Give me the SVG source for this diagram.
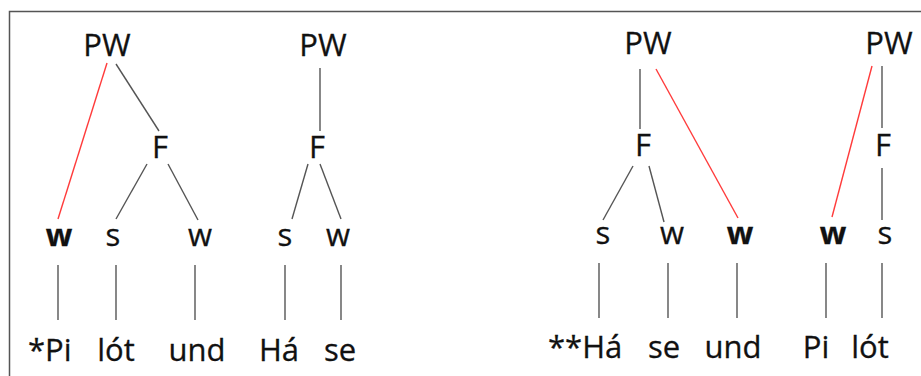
<svg xmlns="http://www.w3.org/2000/svg" width="921" height="376" viewBox="0 0 921 376">
  <style>
    text { font-family: "Open Sans", "Noto Sans", sans-serif; font-size: 31px; fill: #111; text-anchor: middle; stroke: #111; stroke-width: 0.3; }
    text.b { font-weight: bold; }
    text.s { text-anchor: start; }
    .edge { stroke: #555; stroke-width: 1.4; fill: none; }
    .red { stroke: #ff3b3b; stroke-width: 1.4; fill: none; }
    .frame { stroke: #555; stroke-width: 1.5; fill: none; }
  </style>
  <rect width="921" height="376" fill="#fff"/>
  <path class="frame" d="M9.5,380 V11.5 H925"/>

  <!-- connectors -->
  <g id="connectors">
    <!-- tree 1: *Pi lót und -->
    <line class="red" x1="107" y1="63" x2="58" y2="219"/>
    <line class="edge" x1="116" y1="64" x2="159" y2="131"/>
    <line class="edge" x1="147" y1="164" x2="116" y2="219"/>
    <line class="edge" x1="168" y1="164" x2="198" y2="220"/>
    <line class="edge" x1="58" y1="265" x2="58" y2="320"/>
    <line class="edge" x1="116" y1="265" x2="116" y2="320"/>
    <line class="edge" x1="195" y1="265" x2="195" y2="320"/>
    <!-- tree 2: Há se -->
    <line class="edge" x1="320" y1="68" x2="320" y2="131"/>
    <line class="edge" x1="308" y1="164" x2="292" y2="219"/>
    <line class="edge" x1="320" y1="164" x2="341" y2="219"/>
    <line class="edge" x1="285" y1="265" x2="285" y2="320"/>
    <line class="edge" x1="341" y1="265" x2="341" y2="320"/>
    <!-- tree 3: **Há se und -->
    <line class="edge" x1="640" y1="69" x2="640" y2="129"/>
    <line class="red" x1="656" y1="69" x2="738" y2="218"/>
    <line class="edge" x1="633" y1="166" x2="603" y2="220"/>
    <line class="edge" x1="649" y1="166" x2="664" y2="222"/>
    <line class="edge" x1="599" y1="263" x2="599" y2="318"/>
    <line class="edge" x1="668" y1="263" x2="668" y2="318"/>
    <line class="edge" x1="737" y1="263" x2="737" y2="318"/>
    <!-- tree 4: Pi lót -->
    <line class="red" x1="872" y1="66" x2="832" y2="217"/>
    <line class="edge" x1="882" y1="66" x2="882" y2="128"/>
    <line class="edge" x1="882" y1="168" x2="882" y2="220"/>
    <line class="edge" x1="826" y1="263" x2="826" y2="318"/>
    <line class="edge" x1="882" y1="263" x2="882" y2="318"/>
  </g>

  <!-- tree 1 -->
  <g id="t1-pw"><text x="107" y="56">PW</text></g>
  <g id="t1-f"><text x="160" y="158">F</text></g>
  <g id="t1-w1"><text class="b" x="59" y="246">w</text></g>
  <g id="t1-s"><text x="113" y="246">s</text></g>
  <g id="t1-w2"><text x="200" y="246">w</text></g>
  <g id="t1-pi"><text class="s" x="28" y="361">*Pi</text></g>
  <g id="t1-lot"><text x="116" y="361">lót</text></g>
  <g id="t1-und"><text x="197" y="361">und</text></g>

  <!-- tree 2 -->
  <g id="t2-pw"><text x="323" y="56">PW</text></g>
  <g id="t2-f"><text x="317" y="158">F</text></g>
  <g id="t2-s"><text x="285" y="246">s</text></g>
  <g id="t2-w"><text x="338" y="246">w</text></g>
  <g id="t2-ha"><text x="279" y="361">Há</text></g>
  <g id="t2-se"><text x="340" y="361">se</text></g>

  <!-- tree 3 -->
  <g id="t3-pw"><text x="648" y="54">PW</text></g>
  <g id="t3-f"><text x="643" y="156">F</text></g>
  <g id="t3-s"><text x="603" y="244">s</text></g>
  <g id="t3-w1"><text x="672" y="244">w</text></g>
  <g id="t3-w2"><text class="b" x="740" y="244">w</text></g>
  <g id="t3-ha"><text class="s" x="548" y="358">**Há</text></g>
  <g id="t3-se"><text x="664" y="358">se</text></g>
  <g id="t3-und"><text x="733" y="358">und</text></g>

  <!-- tree 4 -->
  <g id="t4-pw"><text x="889" y="54">PW</text></g>
  <g id="t4-f"><text x="883" y="156">F</text></g>
  <g id="t4-w"><text class="b" x="833" y="244">w</text></g>
  <g id="t4-s"><text x="885" y="244">s</text></g>
  <g id="t4-pi"><text x="816" y="358">Pi</text></g>
  <g id="t4-lot"><text x="870" y="358">lót</text></g>
</svg>
